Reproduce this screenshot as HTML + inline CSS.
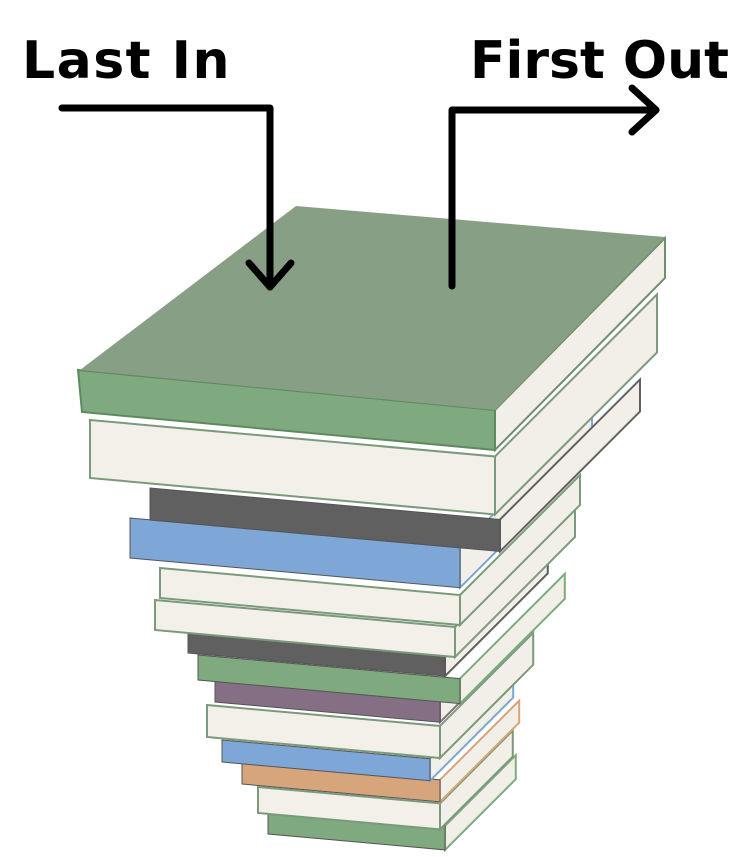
<!DOCTYPE html>
<html><head><meta charset="utf-8">
<style>
html,body{margin:0;padding:0;background:#fff;}
svg{display:block;}
text{font-family:"DejaVu Sans","Liberation Sans",sans-serif;font-weight:bold;}
</style></head>
<body>
<svg id="s" width="756" height="857" viewBox="0 0 756 857">
  <text x="22" y="78" font-size="52" letter-spacing="1.5" fill="#000">Last In</text>
  <text x="470" y="78" font-size="52" fill="#000">First Out</text>
  <g id="books"></g>
  <g fill="none" stroke="#000" stroke-width="7" stroke-linecap="round" stroke-linejoin="round">
    <polyline points="62,108 270,108 270,287"/>
    <polyline points="249,263 270,287 291,263"/>
  </g>
  <g fill="none" stroke="#000" stroke-width="7" stroke-linecap="round" stroke-linejoin="round">
    <polyline points="452,286 452,110 656,110"/>
    <polyline points="632,88 656,110 632,132"/>
  </g>
</svg>
<script>
// books: [xLeft, xRight, yTop, height, color, pagesFront]
const books = [
  [268,445,810,24,'#7faa7f',false],
  [258,440,787,26,'#f3f0ea',true],
  [242,440,762,22,'#d6a57c',false],
  [222,430,740,22,'#7ea6d6',false],
  [207,440,705,32,'#f3f0ea',true],
  [215,440,680,22,'#846f85',false],
  [198,460,655,25,'#7faa7f',false],
  [188,445,633,20,'#5f605f',false],
  [155,455,600,30,'#f3f0ea',true],
  [160,460,568,30,'#f3f0ea',true],
  [130,460,518,40,'#7ea6d6',false],
  [150,500,488,32,'#5f605f',false],
  [90,495,420,58,'#f3f0ea',true]
];
const g = document.getElementById('books');
const NS = 'http://www.w3.org/2000/svg';
function poly(pts, fill, stroke, sw){
  const p = document.createElementNS(NS,'polygon');
  p.setAttribute('points', pts.map(a=>a.join(',')).join(' '));
  p.setAttribute('fill', fill);
  if(stroke){p.setAttribute('stroke', stroke);p.setAttribute('stroke-width', sw||2);}
  g.appendChild(p);
  return p;
}
books.forEach(function(b){
  const xl=b[0], xr=b[1], yt=b[2], h=b[3], c=b[4], pages=b[5];
  const slope=0.09, d=0.4*(xr-xl);
  const yR = yt + slope*(xr-xl);
  const edge = pages ? '#7b9a7b' : c;
  const side = poly([[xr,yR],[xr+d,yR-d],[xr+d,yR-d+h],[xr,yR+h]], '#f2efe8', edge, 2);
  
  
  const front = poly([[xl,yt],[xr,yR],[xr,yR+h],[xl,yt+h]], c, pages ? '#7b9a7b' : '#555', pages ? 2 : 1);
  
  
});
// top book
const side = poly([[495,410],[665,238],[665,278],[495,450]], '#f2efe8', '#6f8f6f', 2);


const spine = poly([[78,370],[495,410],[495,450],[82,412]], '#7faa7f', '#5f8a5f', 2);


const cover = poly([[80,370],[296,206],[665,237],[495,410]], '#87a085');


</script>
</body></html>
